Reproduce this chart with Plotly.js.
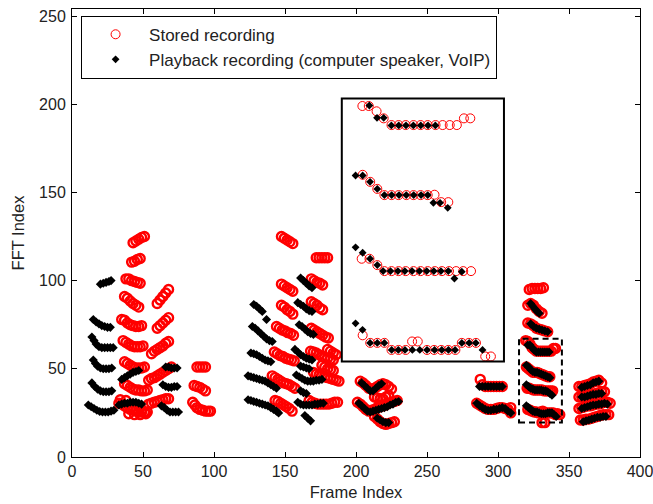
<!DOCTYPE html>
<html>
<head>
<meta charset="utf-8">
<script src="https://cdn.plot.ly/plotly-3.0.1.min.js"></script>
<style>
  html, body { margin: 0; padding: 0; background: #fff; }
  #chart { width: 653px; height: 504px; }
</style>
</head>
<body>
<div id="chart"></div>
<script>
// [frame index, FFT index] pairs, one array per group of harmonic tracks.

// Stored recording (red circles)
const storedA = [
  [43,121.5],[45,122.5],[47,123.5],[49,124.5],[51,125],
  [42,110.5],[44,111],[46,112],[48,112.5],
  [38,101],[40,101],[42,100],[44,99.5],[46,99],[48,98.5],
  [37,91],[39,90],[41,88.5],[43,87],[45,86],[47,85],
  [35,78],[37,77.5],[39,76],[41,75],[43,74.5],[45,74],[47,74],[49,74.5],
  [36,66],[38,65],[40,64],[42,63],[44,62.5],[46,62.5],[48,62.5],[50,63],
  [37,54],[39,53],[41,52],[43,51],[45,50.5],[47,50.5],[49,50.5],[51,51],
  [37,41.5],[39,40.5],[41,39.5],[43,38.5],[45,38],[47,38],[49,37.5],[51,37.5],[53,38],
  [34,32.5],[38,32],
  [33,30.5],[35,30],[37,29],[39,28],[41,27],[43,26.5],[45,26],[47,25.5],[49,25.5],[51,25.5],[53,25.5],
  [40,24.5],[44,24],[48,24],[52,24.5]
];
const storedB = [
  [60,87],[62,89],[64,91],[66,93],[68,95],
  [60,73],[62,74.5],[64,76],[66,77.5],[68,79],
  [56,58.5],[58,60],[60,61],[62,62],[64,63],[66,64.5],[68,65.5],
  [54,43.5],[56,44.5],[58,45],[60,46],[62,47],[64,48],[66,49],[68,50],[70,51],
  [54,30],[56,30.5],[58,31],[60,31.5],[62,32],[64,32.5],[66,33],[68,33]
];
const storedC = [
  [88,51],[90,51],[92,51],[94,51],
  [86,40.5],[88,40],[90,39.5],[92,38.5],[94,37.5],
  [85,31],[86.5,29.5],[88,28],[90,27],[92,26.5],[94,26],[96,26],[97.5,26]
];
const storedD = [
  [147.5,125],[149.5,124],[151.5,123],[153.5,122],[155.5,121],
  [147.5,98],[149.5,97],[151.5,96],[153.5,95],[155.5,94],
  [147.5,86],[149.5,85],[151.5,83.5],[153.5,82.5],[155.5,81],
  [144,74],[146,73],[148,72],[150,71.5],[152,70.5],[154,70],[156,69],
  [142.5,59.5],[144.5,58.5],[146.5,57.5],[148.5,57],[150.5,56],[152.5,55.5],[154.5,55],[156.5,54.5],
  [141,46],[143,45],[145,44],[147,43],[149,42],[151,41.5],[153,41],[155,40],[157,39],
  [143,32],[145,31.5],[147,30.5],[149,29.5],[151,28.5],[153,27.5],[155,26]
];
const storedE = [
  [172,113],[174,113],[176,113],[178,113],[180,113],
  [168.5,101],[170.5,100],[172.5,99],[174.5,98.5],[176.5,97.5],
  [168.5,88],[170.5,87],[172.5,86],[174.5,84.5],[176.5,83.5],
  [168.5,73],[170.5,72],[172.5,71],[174.5,70],[176.5,69],[178.5,68],[180.5,67.5],
  [168,60],[170,59.5],[172,59],[174,58],[176,57],[178,56.5],[180,56],[182,55.5],[184,55],
  [180,61],[182,60],[184,59],[186,58],
  [176,52],[178,51],[180,50],[182,49.5],[184,49],
  [170,48],[172,47],[174,46.5],[176,46],[178,45.5],[180,45],[182,44.5],[184,44],[186,43.5],[188,43],
  [167,32],[169,31],[171,30.5],[173,30],[175,30],[177,30],[179,30],[181,30],[183,30.5],[185,31],[187,31]
];
const storedF = [
  [203,43],[205,42],[207,40.5],[209,39],[211,38.5],[213,39],[215,40],[217,41],[219,41.5],[221,41],[223,40],[225,38.5],
  [213,34],[215,33.5],[217,33],[219,33],[221,34],[223,35],
  [201,31],[203,30],[205,28.5],[207,27],[209,26],[211,26.5],[213,27],[215,28],[217,28.5],[219,29],[221,29.5],[223,30.5],[225,31],[227,31.5],[229,32],
  [213,23],[215,21.5],[217,20],[219,19],[221,18.5],[223,19],[225,19.5],[227,20]
];
const storedG = [
  [287.5,44],[289,41],[291,40],[293,40],[295,40],[297,40],[299,40],[301,40],[303,40],
  [285,30.5],[287,29.5],[289,28.5],[291,27.5],[293,27],[295,27],[297,27],[299,27.5],[301,28],[303,28],[305,27.5],[307,27],[309,28],[309,25]
];
const storedH = [
  [322,95],[324,95.5],[326,95.5],[328,95.5],[330,95.5],[332,96],
  [321,86],[323,87],[325,86],[327,84],[329,82.5],[331,81.5],
  [321,76],[323,75.5],[325,74.5],[327,73],[329,72.5],[331,72],[333,71.5],[335,71],
  [319.5,66],[321,65.5],[322.5,64],[324,62],[325.5,61],[327,60],[328.5,60],[330,60],[331.5,60],[333,60],[334.5,60],[336,60],[337.5,60],[339,61.5],[340.5,61.5],
  [320,51],[321.5,50],[323,49],[324.5,48],[326,48],[327.5,48],[329,47.5],[330.5,47],[332,46.5],[333.5,46],[335,45.5],[336.5,45.5],
  [320.5,39],[322,39],[323.5,38.5],[325,38],[326.5,38],[328,38],[329.5,38],[331,38],[332.5,37.5],[334,37.5],[335.5,37.5],[337,37.5],[338.5,37.5],
  [321,27],[322.5,26.5],[324,26],[325.5,25.5],[327,25.5],[328.5,25],[330,25.5],[331.5,26],[333,25],[334.5,25],[336,25],[337.5,25],[339,25],[340.5,24],[342,24.5],[343.5,24],
  [331,19.5],[333,19.5]
];
const storedI = [
  [357,40],[359,40],[361,40.5],[363,41],[365,41.5],[367,42.5],[369,43],[371,43.5],[373,42],
  [357,34],[359,34],[361,34.5],[363,35],[365,35],[367,35.5],[369,36],[371,36.5],[373,37],[375,37],
  [357,27.5],[359,28],[361,28.5],[363,29],[365,29],[367,29.5],[369,30],[371,30],[373,30.5],[375,31],[377,31],[379,30.5],
  [358,21],[360,21],[362,21.5],[364,21.5],[366,22],[368,22.5],[370,23],[372,23.5],[374,24],[376,24],[378,24]
];
// magnified view of the dashed region (drawn inside the solid box)
const storedInset = [
  [204.5,199],[209,199],[214.5,196],[219.5,192],[225,188.2],[230,188.2],[235,188.2],[240.5,188.2],[245.5,188.2],[250.5,188.2],[256,188.2],[261,188.2],[266,188.2],[271,188.2],[276,192],[280.5,192],
  [204.7,160],[210,156],[215,152],[220,148.5],[225,148.5],[230,148.5],[235.5,148.5],[240.5,148.5],[245.5,148.5],[250.5,148.5],[255.3,148.7],[260,144.5],[265,144.5],
  [204,112.4],[209.5,112.4],[215,108.8],[220,105.4],[225,105.4],[230,105.4],[235,105.4],[240.5,105.4],[245.5,105.4],[250.5,105.4],[255.5,105.4],[260.5,105.4],[265.5,105.4],[270.5,105.4],[275.5,105.4],[281,105.4],
  [204.7,69],[210,64.7],[215,64.7],[220,64.7],[225,60.7],[230,60.7],[235,60.7],[239.5,65.5],[243.5,65.5],[250,60.7],[255,60.7],[260,60.7],[265,60.7],[270,60.7],[274.5,64.7],[279.5,64.7],[284.5,64.7],[291,57],[295,57]
];

// Playback recording (black diamonds)
const playbackA = [
  [20,98],[22,98.5],[24,99],[26,99.5],[27.5,100],
  [15,78],[17,76.5],[19,75.5],[21,74.5],[23,74],[25,73.5],[27,73.5],
  [14,68],[15.5,66],[17,64],[19,62.5],[21,62],[23,62],[25,62],[27,62],[29,62],
  [15,55],[16.5,53],[18,51.5],[20,50.5],[22,50],[24,50],[26,50],[28,50.5],
  [14,42],[16,40],[18,38.5],[20,37.5],[22,37],[24,37],[26,37],[28,37.5],
  [11.5,29.5],[13.5,28.5],[15.5,27.5],[17.5,26.5],[19.5,25.8],[21.5,25.5],[23.5,25.5],[25.5,25.5],[27.5,26],[29.5,26.5]
];
const playbackB = [
  [35,44],[37,45],[39,46],[41,47],[43,48],[45,48.5],[47,49],
  [33,29.5],[35,30],[37,30.5],[39,30.5],[41,31],[43,31],[45,31],[47,30.5],[49,30],
  [66,51],[68,51],[70,50.5],[72,50.5],[74,50.5],
  [64,41],[66,40],[68,39.5],[70,39.5],[72,40],[74,40],
  [63,29],[65,28],[67,26.5],[69,25.5],[71,25.5],[73,25.5],[75,25.5]
];
const playbackC = [
  [128,86.5],[130,85.5],[132,84],[134,82.5],[137,78],
  [127,74],[129,73],[131,71.5],[133,70],[135,68.5],[137,67],[139,66],[141,65.5],
  [126,59],[128,58.5],[130,58],[132,57],[134,56],[136,55],[138,54.5],[140,54],
  [124,46],[126,45.5],[128,45],[130,44.5],[132,44],[134,43.5],[136,43],[138,42],[140,41],[142,40],[144,39],
  [124,32.5],[126,32],[128,31.5],[130,31],[132,30.5],[134,30],[136,29.5],[138,29],[140,28],[142,27],[144,26],[145.5,25]
];
const playbackD = [
  [161,101.5],[163,100],[165,98.5],[167,97],[169,96],
  [159,87.5],[161,86.5],[163,85.5],[165,84],[167,83],[169,82.5],
  [160,75],[162,74],[164,72.5],[166,71],[168,70],[170,69.5],
  [157,61],[159,59.5],[161,58],[163,57],[165,56],[167,55.5],[169,55],
  [161,51.5],[163,51],[165,50.5],[167,50],
  [158,46.5],[160,45.5],[162,44.5],[164,43.5],[166,43],[168,43],[170,43],[172,43.5],[174,43.5],[176,44],
  [161,37.5],[163,36.5],[165,36],
  [159,31],[161,30],[163,29.5],[165,29.5],[167,29.5],[169,29.5],[171,30],[173,30],[175,30.5],[177,30.5],
  [164,23.5],[166,22],[168,20.5]
];
const playbackE = [
  [204,42],[206,40.5],[208,39],[210,37.5],[212,37.5],[214,39],[216,40.5],[218,41.5],
  [202,30.5],[204,29],[206,27.5],[208,26],[210,25.5],[212,26],[214,26.5],[216,27],[218,27.5],[220,28],[222,28.5],[224,29.5],[226,30],[228,31],[230,31.5],
  [215,22],[217,21],[219,20],[221,19.5],[223,19.5]
];
const playbackF = [
  [287,40],[289,40],[291,40],[293,40],[295,40],[297,40],[299,40],[301,40],[303,40],
  [285,30.5],[287,29],[289,28],[291,27],[293,26.5],[295,26.5],[297,27],[299,27],[301,27.5],[303,28],[305,27.5],[307,26],[309,25]
];
const playbackG = [
  [323,87],[324.5,85.5],[326,84],[327.5,82.5],[329,81.5],
  [323,75.5],[325,74],[327,73],[329,72.5],[331,72],[333,71.5],[335,71],
  [321,63.5],[322.5,63.5],[324,62],[325.5,60.5],[327,59.5],[328.5,59.5],[330,59.5],[331.5,59.5],[333,59.5],[334.5,59.5],[336,59.5],
  [320,52],[321.5,51],[323,49.5],[324.5,48.5],[326,48],[327.5,48],[329,47.5],[330.5,47],[332,46.5],[333.5,46],[335,45.5],[336.5,45],
  [320,41],[321.5,40],[323,39],[324.5,38.5],[326,38],[327.5,38],[329,38],[330.5,38],[332,37.5],[333.5,37.5],[335,37],[336.5,36],[338,35],
  [320,29],[321.5,28],[323,27],[324.5,26],[326,25.5],[327.5,25.5],[329,25],[330.5,24.5],[332,24.5],[333.5,24.5],[335,25],[336.5,25],[338,25],[339.5,24],[341,23]
];
const playbackH = [
  [359,39.5],[361,40],[363,40.5],[365,41],[367,42],[369,42.5],[371,43],
  [359,34],[361,34],[363,34.5],[365,35],[367,35.5],[369,35.5],[371,36],[373,36],
  [359,27.5],[361,28],[363,28.5],[365,29],[367,29.5],[369,29.5],[371,30],[373,30],[375,30.5],[377,30],
  [360,20],[362,20.5],[364,21],[366,21.5],[368,22],[370,22.5],[372,22.5],[374,23],[376,23]
];
const playbackInset = [
  [209.4,199.3],[214.8,192.3],[219.5,192.3],[224.9,188],[230.1,188],[235.2,188],[240.4,188],[245.6,188],[250.7,188],[255.9,188],
  [199.7,159.6],[204.7,159.6],[209.9,156],[215,152],[220,148.5],[225.1,148.5],[230.3,148.5],[235.4,148.5],[240.6,148.5],[245.8,148.5],[250.5,148.5],[254.5,144.1],[259.2,144.1],[264.6,141.3],
  [199.7,118.9],[204.7,115.8],[209.9,112.4],[215,108.8],[219.1,105.4],[224.3,105.4],[229.5,105.4],[234.4,105.4],[239.5,105.4],[244.7,105.4],[249.8,105.4],[254.8,105.4],[259.8,105.4],[265,105.4],[269.3,101.2],[274.5,105.1],
  [199.7,75.8],[204.6,72.1],[209.9,64.7],[215,64.7],[220,64.7],[225.1,60.7],[229.8,60.7],[234.5,60.7],[239.7,60.7],[244.9,60.7],[250,60.7],[255.3,60.7],[260.4,60.7],[265.1,60.7],[269.8,60.7],[274.5,64.7],[279.7,64.7],[284.4,64.7],[289.1,60.7]
];

const storedMain = [].concat(storedA, storedB, storedC, storedD, storedE,
  storedF, storedG, storedH, storedI);
const playbackMain = [].concat(playbackA, playbackB, playbackC, playbackD,
  playbackE, playbackF, playbackG, playbackH);

const xTicks = [0, 50, 100, 150, 200, 250, 300, 350, 400];
const yTicks = [0, 50, 100, 150, 200, 250];

const FONT = 'Liberation Sans, Arial, Helvetica, sans-serif';
const RED = '#ff0000';

const xs = pts => pts.map(p => p[0]);
const ys = pts => pts.map(p => p[1]);

const traces = [
  {
    // dense tracks: overlapping rings merge into solid blobs
    name: 'Stored recording', legendgroup: 'stored', showlegend: false,
    type: 'scatter', mode: 'markers', x: xs(storedMain), y: ys(storedMain),
    marker: { symbol: 'circle-open', size: 9, color: RED, line: { width: 2.4, color: RED } },
    hoverinfo: 'x+y'
  },
  {
    name: 'Stored recording', legendgroup: 'stored',
    type: 'scatter', mode: 'markers', x: xs(storedInset), y: ys(storedInset),
    marker: { symbol: 'circle-open', size: 9, color: RED, line: { width: 1, color: RED } },
    hoverinfo: 'x+y'
  },
  {
    name: 'Playback recording (computer speaker, VoIP)', legendgroup: 'playback', showlegend: false,
    type: 'scatter', mode: 'markers', x: xs(playbackMain), y: ys(playbackMain),
    marker: { symbol: 'diamond', size: 7, color: '#000000', line: { width: 0 } },
    hoverinfo: 'x+y'
  },
  {
    name: 'Playback recording (computer speaker, VoIP)', legendgroup: 'playback',
    type: 'scatter', mode: 'markers', x: xs(playbackInset), y: ys(playbackInset),
    marker: { symbol: 'diamond', size: 6, color: '#000000', line: { width: 0 } },
    hoverinfo: 'x+y'
  }
];

const axisCommon = {
  showgrid: false, zeroline: false,
  showline: true, linecolor: '#000', linewidth: 1, mirror: 'ticks',
  ticks: 'inside', ticklen: 5, tickwidth: 1, tickcolor: '#000',
  ticklabeloverflow: 'allow',
  tickfont: { family: FONT, size: 16, color: '#222' }
};

const layout = {
  width: 653, height: 504,
  margin: { l: 72, r: 13, t: 9, b: 47, pad: 0 },
  paper_bgcolor: '#fff', plot_bgcolor: '#fff',
  font: { family: FONT, size: 16, color: '#222' },
  xaxis: Object.assign({}, axisCommon, {
    range: [0, 400], tickvals: xTicks, ticktext: xTicks.map(String),
    title: { text: 'Frame Index', font: { family: FONT, size: 16.5, color: '#222' }, standoff: 7 }
  }),
  yaxis: Object.assign({}, axisCommon, {
    range: [0, 254], tickvals: yTicks, ticktext: yTicks.map(String),
    ticklabelstandoff: 2,
    title: { text: 'FFT Index', font: { family: FONT, size: 16.5, color: '#222' }, standoff: 10 }
  }),
  showlegend: true,
  legend: {
    x: 0.016, y: 0.985, xanchor: 'left', yanchor: 'top',
    bgcolor: '#fff', bordercolor: '#000', borderwidth: 1,
    itemwidth: 57, traceorder: 'normal',
    font: { family: FONT, size: 17, color: '#222' }
  },
  shapes: [
    // magnified view frame
    { type: 'rect', xref: 'x', yref: 'y', x0: 190, x1: 304.2, y0: 54.2, y1: 203.3,
      line: { color: '#000', width: 2 } },
    // region that is magnified
    { type: 'rect', xref: 'x', yref: 'y', x0: 314.8, x1: 345, y0: 19.5, y1: 67,
      line: { color: '#000', width: 2, dash: '6px,4px' } }
  ]
};

Plotly.newPlot('chart', traces, layout, { displayModeBar: false, staticPlot: true });
</script>
</body>
</html>
